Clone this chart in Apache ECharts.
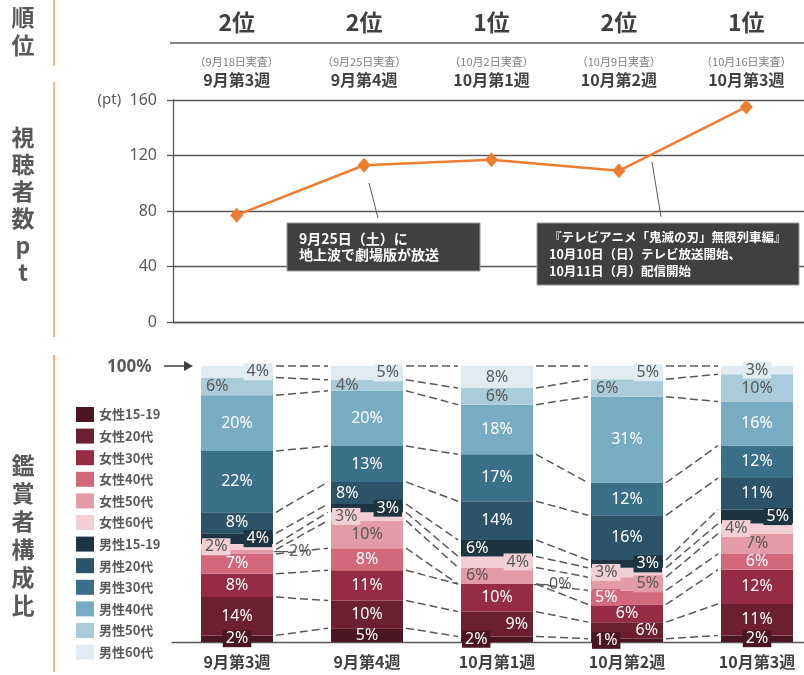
<!DOCTYPE html>
<html><head><meta charset="utf-8">
<script src="https://cdn.jsdelivr.net/npm/echarts@6/dist/echarts.min.js"></script>
<style>html,body{margin:0;padding:0;background:#fff}#c{width:804px;height:675px}</style>
</head><body><div id="c"></div>
<script>
// ---------- data ----------
const weeks = ['9月第3週','9月第4週','10月第1週','10月第2週','10月第3週'];
const surveyDates = ['（9月18日実査）','（9月25日実査）','（10月2日実査）','（10月9日実査）','（10月16日実査）'];
const ranks = ['2位','2位','1位','2位','1位'];
const viewerPt = [77, 113, 117, 109, 155];
const ptTicks = [0, 40, 80, 120, 160];
const segmentNames = ['女性15-19','女性20代','女性30代','女性40代','女性50代','女性60代',
                      '男性15-19','男性20代','男性30代','男性40代','男性50代','男性60代'];
// share (%) per viewer segment, one value per week
const f1519 = [2.4, 5, 2, 1.2, 2.4];
const f20   = [13.9, 10, 9, 6.0, 11.4];
const f30   = [8.4, 11, 10, 6.4, 12.4];
const f40   = [7.2, 8, 0, 5.1, 5.7];
const f50   = [1.6, 10, 6, 4.8, 7.4];
const f60   = [2.0, 3, 4, 3.4, 3.6];
const m1519 = [3.9, 3, 6, 2.8, 5.1];
const m20   = [7.6, 8, 14, 16.2, 11.4];
const m30   = [22.2, 13, 17, 11.8, 11.8];
const m40   = [20.2, 20, 18, 31.2, 15.9];
const m50   = [6.4, 4, 6, 6.3, 9.9];
const m60   = [4.2, 5, 8, 4.8, 3.0];
const shares = [f1519, f20, f30, f40, f50, f60, m1519, m20, m30, m40, m50, m60];

// ---------- styles ----------
const segColors = ['#4b1522','#6c1f31','#952c43','#d3687b','#e39ba8','#f2ced5',
                   '#1d3441','#2c5367','#3b7089','#78acc3','#a9cbda','#e0ecf1'];
const segText = ['#fff','#fff','#fff','#fff','#595959','#595959','#fff','#fff','#fff','#fff','#595959','#595959'];
// label placement: c=centre, l=left, r=right, upper case = boxed, o=outside with leader
const placement = [
  ['C','c','L','L','C'],
  ['c','c','r','r','c'],
  ['c','c','c','c','c'],
  ['c','c','o','L','c'],
  ['o','c','l','R','c'],
  ['L','L','R','L','L'],
  ['R','R','l','R','R'],
  ['c','l','c','c','c'],
  ['c','c','c','c','c'],
  ['c','c','c','c','c'],
  ['l','l','c','l','c'],
  ['R','R','c','R','C']
];
const FONT = "'Noto Sans','Noto Sans CJK JP',sans-serif";
const JP = "'Noto Sans CJK JP','Noto Sans',sans-serif";
const BAR_W = 72;

function makeLabel(code, s) {
  const boxed = code !== code.toLowerCase();
  const c = code.toLowerCase();
  const lab = {show: true, fontSize: 16, fontFamily: FONT, color: segText[s],
               formatter: p => Math.round(p.value) + '%'};
  if (c === 'c') lab.position = 'inside';
  if (c === 'l') { lab.position = 'insideLeft'; lab.distance = boxed ? 1 : 5; }
  if (c === 'r') { lab.position = 'insideRight'; lab.distance = boxed ? 1 : 5; }
  if (c === 'o') { lab.position = 'right'; lab.distance = 0; lab.color = '#595959';
                   lab.formatter = p => '—' + Math.round(p.value) + '%'; }
  if (boxed) { lab.backgroundColor = segColors[s]; lab.padding = [0, 3]; lab.lineHeight = 17; }
  return lab;
}

const barSeries = shares.map((vals, s) => ({
  name: segmentNames[s], type: 'bar', stack: 'share', xAxisIndex: 2, yAxisIndex: 1,
  barWidth: BAR_W, itemStyle: {color: segColors[s]},
  data: vals.map((v, w) => ({value: v, label: makeLabel(placement[s][w], s)}))
}));

function cumAt(w, k) { let t = 0; for (let j = 0; j < k; j++) t += shares[j][w]; return t; }
const connectorData = [];
for (let i = 0; i < weeks.length - 1; i++)
  for (let k = 1; k <= shares.length; k++) connectorData.push([i, k]);

const chart = echarts.init(document.getElementById('c'), null, {renderer: 'canvas'});
const option = {
  animation: false,
  textStyle: {fontFamily: FONT},
  grid: [
    {left: 173, right: -6, top: 100, height: 222, outerBoundsMode: 'none', containLabel: false},
    {left: 172, right: -18, top: 366, height: 276, outerBoundsMode: 'none', containLabel: false}
  ],
  legend: {
    orient: 'vertical', left: 71, top: 402, icon: 'rect', itemWidth: 18, itemHeight: 15, itemGap: 6.6,
    data: segmentNames, selectedMode: false,
    textStyle: {fontSize: 13, fontWeight: 'bold', color: '#595959', fontFamily: JP}
  },
  xAxis: [
    {type: 'category', gridIndex: 0, data: weeks, position: 'bottom',
     axisLine: {show: true, lineStyle: {color: '#595959', width: 1.3}}, axisTick: {show: false}, axisLabel: {show: false}},
    {type: 'category', gridIndex: 0, data: weeks, position: 'top',
     axisLine: {show: false}, axisTick: {show: false},
     axisLabel: {interval: 0, margin: 10, fontFamily: JP,
       formatter: (v, i) => `{rank|${ranks[i]}}\n{sub|${surveyDates[i]}}\n{wk|${v}}`,
       rich: {
         rank: {fontSize: 23, fontWeight: 'bold', color: '#404040', lineHeight: 64, fontFamily: JP},
         sub: {fontSize: 11, color: '#7f7f7f', lineHeight: 16, fontFamily: JP},
         wk: {fontSize: 16, fontWeight: 'bold', color: '#404040', lineHeight: 20, fontFamily: JP}
       }}},
    {type: 'category', gridIndex: 1, data: weeks,
     axisLine: {show: true, lineStyle: {color: '#595959', width: 1.3}}, axisTick: {show: false},
     axisLabel: {interval: 0, margin: 12, fontSize: 16, fontWeight: 'bold', color: '#404040', fontFamily: JP}}
  ],
  yAxis: [
    {type: 'value', gridIndex: 0, min: ptTicks[0], max: ptTicks[ptTicks.length - 1], interval: ptTicks[1] - ptTicks[0],
     axisLine: {show: true, lineStyle: {color: '#595959', width: 1.3}},
     axisTick: {show: true, length: 6, lineStyle: {color: '#595959', width: 1.3}},
     splitLine: {show: true, lineStyle: {color: '#595959', width: 1.3}},
     axisLabel: {margin: 16, fontSize: 16, color: '#595959',
       formatter: v => v === ptTicks[ptTicks.length - 1] ? '{u|(pt)}  ' + v : String(v),
       rich: {u: {fontSize: 15, color: '#595959', fontFamily: FONT}}}},
    {type: 'value', gridIndex: 1, min: 0, max: 100, show: false}
  ],
  series: [
    {name: '視聴者数', type: 'line', xAxisIndex: 0, yAxisIndex: 0, data: viewerPt,
     symbol: 'diamond', symbolSize: [13, 15], lineStyle: {color: '#ed7d31', width: 2.5},
     itemStyle: {color: '#ed7d31'}, z: 5},
    {name: 'connectors', type: 'custom', xAxisIndex: 2, yAxisIndex: 1, silent: true, z: 1,
     data: connectorData, encode: {x: 0, y: 1},
     renderItem: (params, api) => {
       const i = api.value(0), k = api.value(1);
       const a = api.coord([i, cumAt(i, k)]);
       const b = api.coord([i + 1, cumAt(i + 1, k)]);
       return {type: 'line', shape: {x1: a[0] + BAR_W / 2 + 3, y1: a[1], x2: b[0] - BAR_W / 2 - 3, y2: b[1]},
               style: {stroke: '#595959', lineWidth: 1.5, lineDash: [8, 4]}};
     }},
    ...barSeries
  ],
  graphic: [
    // orange section rules
    {type: 'line', shape: {x1: 54, y1: 0, x2: 54, y2: 66}, style: {stroke: '#f39a5c', lineWidth: 1.5}},
    {type: 'line', shape: {x1: 54, y1: 82, x2: 54, y2: 337}, style: {stroke: '#f39a5c', lineWidth: 1.5}},
    {type: 'line', shape: {x1: 54, y1: 355, x2: 54, y2: 672}, style: {stroke: '#f39a5c', lineWidth: 1.5}},
    // section titles
    {type: 'text', x: 23, y: 31, style: {text: '順\n位', font: "bold 23px " + JP, fill: '#595959', align: 'center', verticalAlign: 'middle', lineHeight: 28}},
    {type: 'text', x: 23, y: 205, style: {text: '視\n聴\n者\n数\np\nt', font: "bold 23px " + JP, fill: '#595959', align: 'center', verticalAlign: 'middle', lineHeight: 27}},
    {type: 'text', x: 23, y: 535, style: {text: '鑑\n賞\n者\n構\n成\n比', font: "bold 23px " + JP, fill: '#595959', align: 'center', verticalAlign: 'middle', lineHeight: 28}},
    // rank separator
    {type: 'line', shape: {x1: 170, y1: 43, x2: 804, y2: 43}, style: {stroke: '#595959', lineWidth: 1.5}},
    // 100% marker
    {type: 'text', x: 107, y: 367, style: {text: '100%', font: "bold 17px " + FONT, fill: '#595959', align: 'left', verticalAlign: 'middle'}},
    {type: 'line', shape: {x1: 164, y1: 366, x2: 185, y2: 366}, style: {stroke: '#404040', lineWidth: 1.5}},
    {type: 'polygon', shape: {points: [[184, 361], [193, 366], [184, 371]]}, style: {fill: '#404040'}},
    // annotation 1
    {type: 'line', z: 10, shape: {x1: 369, y1: 183, x2: 378, y2: 218}, style: {stroke: '#595959', lineWidth: 1}},
    {type: 'rect', z: 11, shape: {x: 287, y: 223, width: 193, height: 48}, style: {fill: '#404040', stroke: '#9a9a9a', lineWidth: 1}},
    {type: 'text', z: 12, x: 299, y: 247, style: {text: '9月25日（土）に\n地上波で劇場版が放送', font: "bold 14px " + JP, fill: '#fff', align: 'left', verticalAlign: 'middle', lineHeight: 16}},
    // annotation 2
    {type: 'line', z: 10, shape: {x1: 652, y1: 162, x2: 661, y2: 217}, style: {stroke: '#595959', lineWidth: 1}},
    {type: 'rect', z: 11, shape: {x: 537, y: 223, width: 262, height: 62}, style: {fill: '#404040', stroke: '#9a9a9a', lineWidth: 1}},
    {type: 'text', z: 12, x: 549, y: 254, style: {text: '『テレビアニメ「鬼滅の刃」無限列車編』\n10月10日（日）テレビ放送開始、\n10月11日（月）配信開始', font: "bold 12.5px " + JP, fill: '#fff', align: 'left', verticalAlign: 'middle', lineHeight: 17}}
  ]
};
chart.setOption(option);
</script>
</body></html>
